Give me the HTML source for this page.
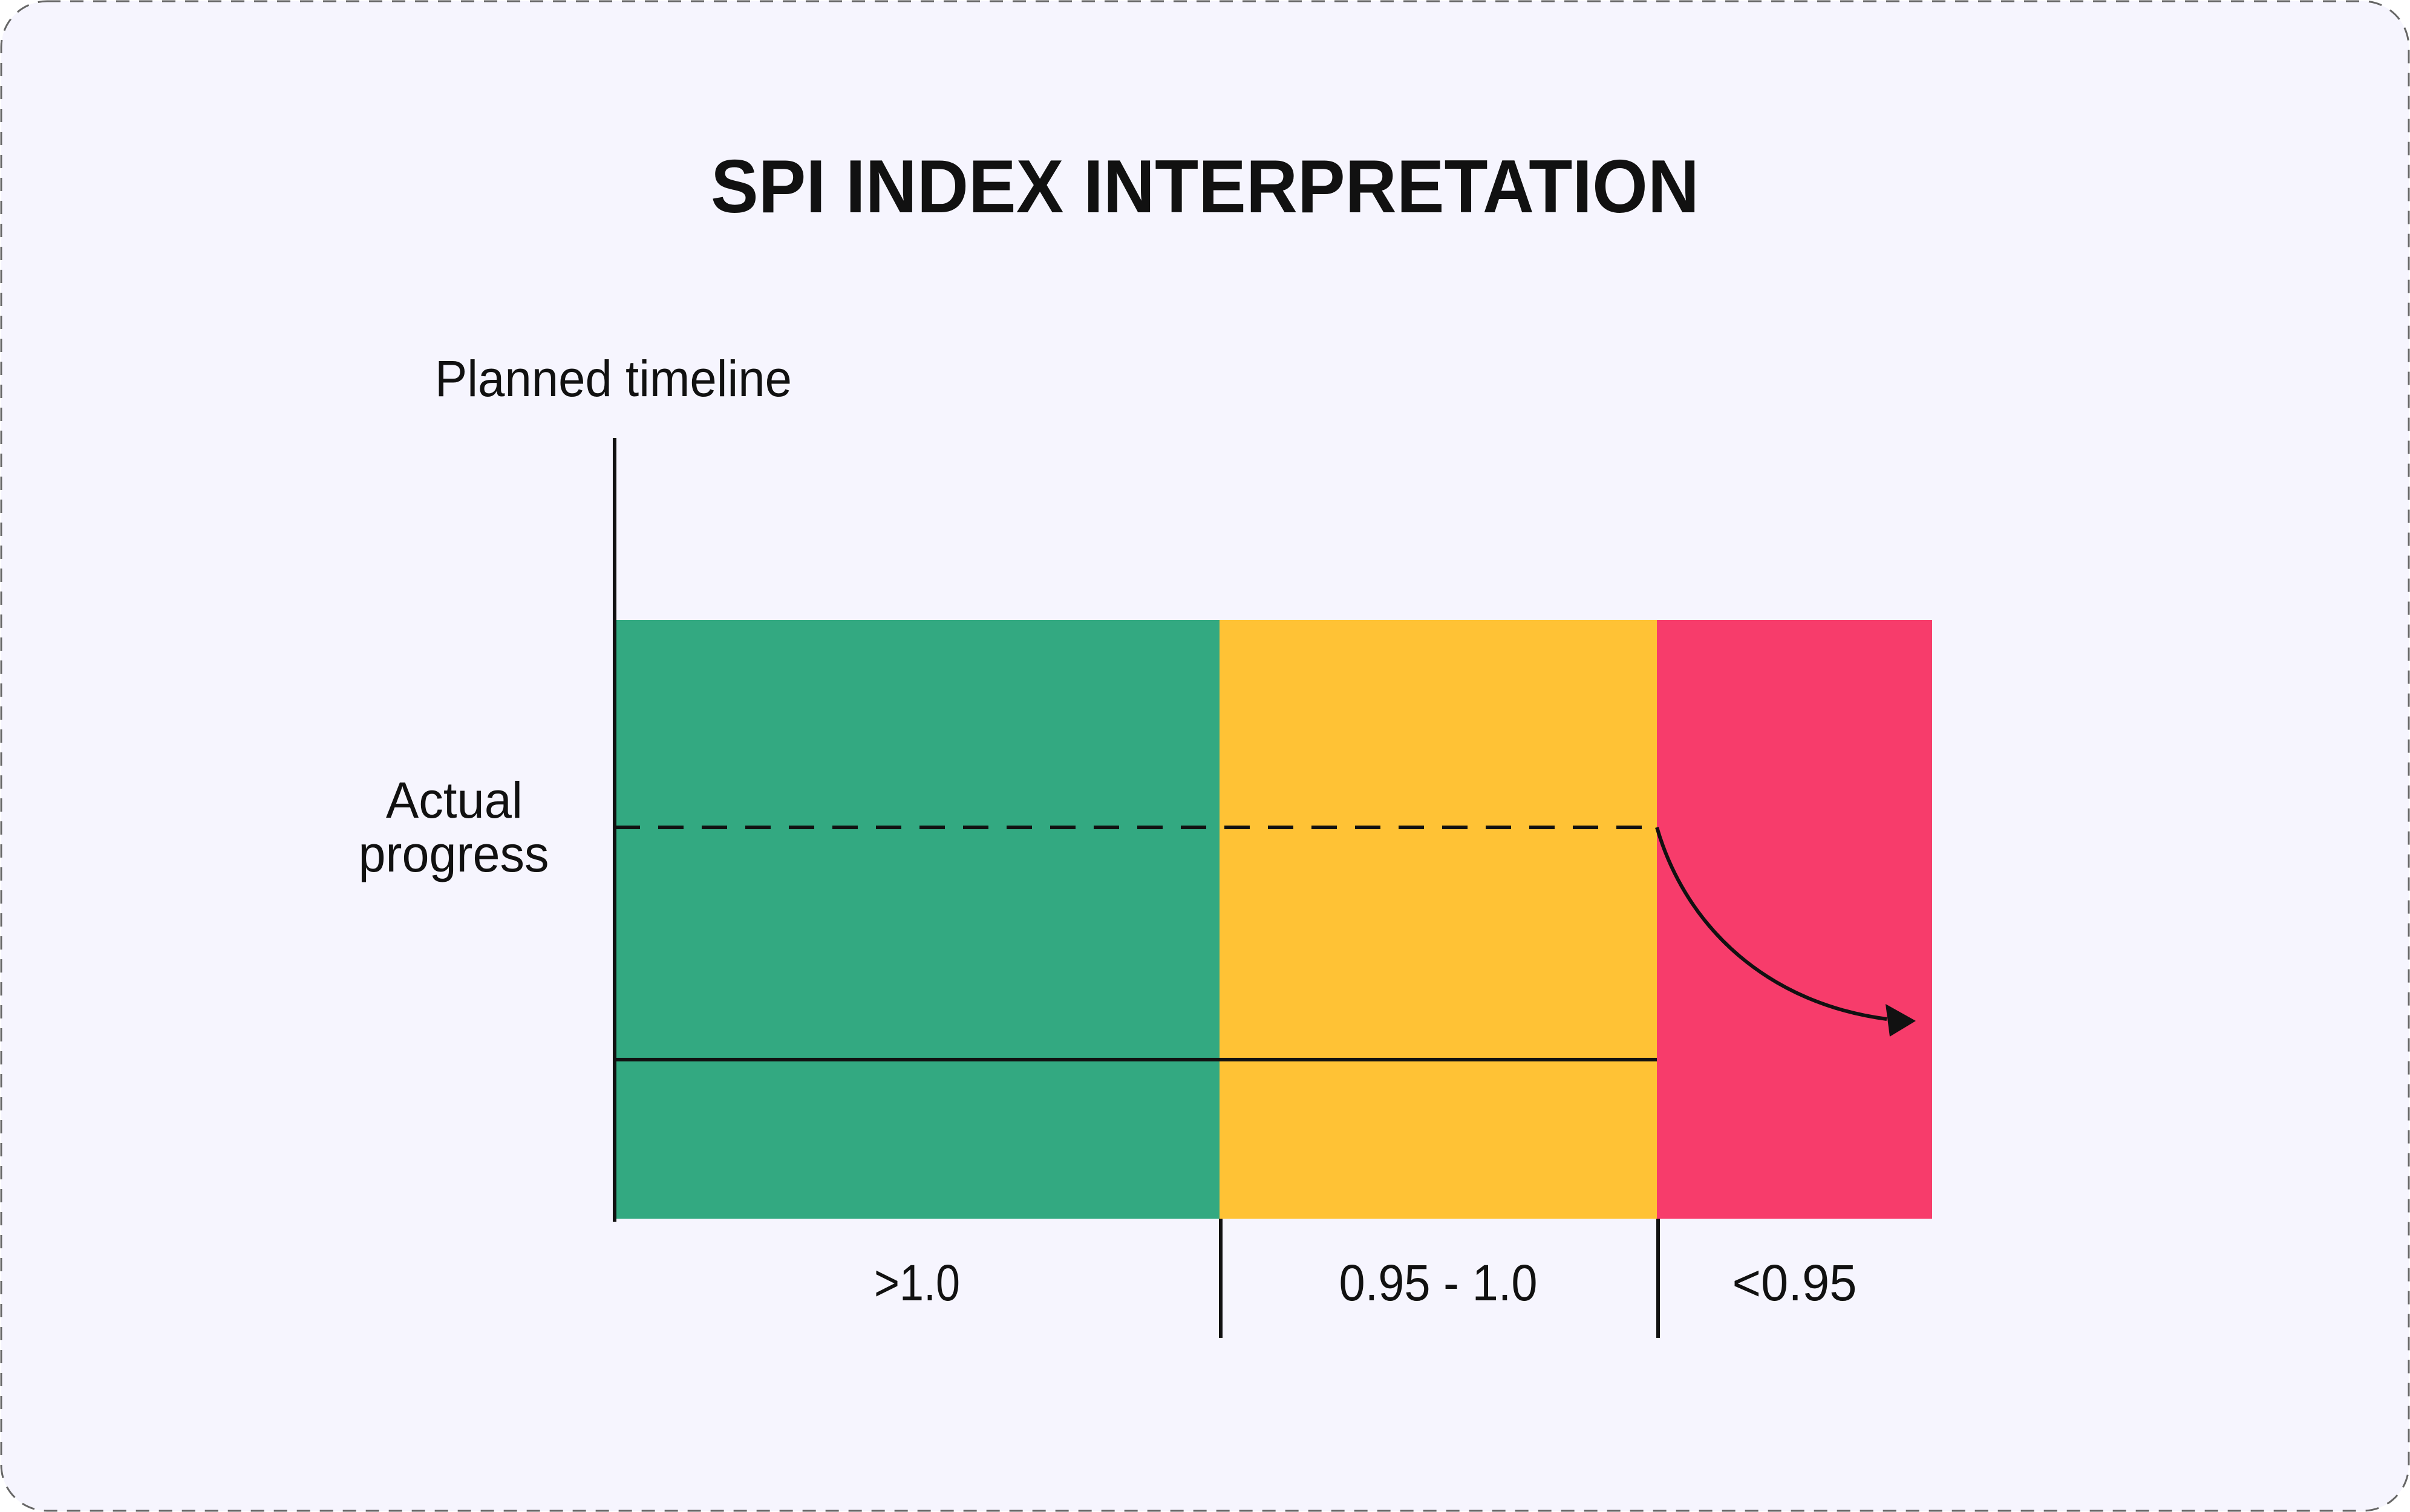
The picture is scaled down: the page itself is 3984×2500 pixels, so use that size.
<!DOCTYPE html>
<html><head><meta charset="utf-8"><style>
html,body{margin:0;padding:0;background:#fff;}
svg{display:block;}
text{font-family:"Liberation Sans",sans-serif;fill:#111;}
</style></head><body>
<svg width="3984" height="2500" viewBox="0 0 3984 2500">
<rect x="2" y="2" width="3980" height="2496" rx="76" fill="#f6f5fe" stroke="#666" stroke-width="3" stroke-dasharray="22 16"/>
<text x="1992" y="351" text-anchor="middle" font-size="124" font-weight="bold" textLength="1634" lengthAdjust="spacingAndGlyphs">SPI INDEX INTERPRETATION</text>
<text x="719" y="655" font-size="84" textLength="590" lengthAdjust="spacingAndGlyphs">Planned timeline</text>
<text x="751" y="1352" text-anchor="middle" font-size="84" textLength="226" lengthAdjust="spacingAndGlyphs">Actual</text>
<text x="750" y="1441" text-anchor="middle" font-size="84" textLength="315" lengthAdjust="spacingAndGlyphs">progress</text>
<g id="zones"></g>
<g id="marks"></g>
</svg>
<script>
const categories = [">1.0", "0.95 - 1.0", "<0.95"];
const bounds = [1.0, 0.95];
const zoneStarts = [0, 1000, 1723];
const zoneEnds = [1000, 1723, 2178];
const colors = ["#33a981", "#ffc235", "#f73c6b"];
const labelWidths = [142, 328, 206];
const x0 = 1016, scale = 1;
const xs = v => x0 + v * scale;
const yTop = 1025, yBottom = 2015;
const NS = "http://www.w3.org/2000/svg";
const zones = document.getElementById('zones');
const marks = document.getElementById('marks');
function mk(tag, attrs, parent){const e=document.createElementNS(NS,tag);for(const k in attrs)e.setAttribute(k,attrs[k]);parent.appendChild(e);return e;}
categories.forEach((c,i)=>{
  const r = mk('rect',{x:xs(zoneStarts[i]),y:yTop,width:xs(zoneEnds[i])-xs(zoneStarts[i]),height:yBottom-yTop,fill:colors[i]},zones);
  
  
  const t = mk('text',{x:(xs(zoneStarts[i])+xs(zoneEnds[i]))/2,y:2150,'text-anchor':'middle','font-size':84,textLength:labelWidths[i],lengthAdjust:'spacingAndGlyphs'},zones);
  t.textContent = c;
  
  
  if(i>0){
    const tk = mk('line',{x1:xs(zoneStarts[i])+2,x2:xs(zoneStarts[i])+2,y1:yBottom,y2:2212,stroke:'#111','stroke-width':6},zones);
    
    
  }
});
const axis = mk('line',{x1:x0,x2:x0,y1:724,y2:2020,stroke:'#111','stroke-width':6},marks);


const xe = xs(zoneEnds[1]);
const dash = mk('line',{x1:x0,x2:xe,y1:1368,y2:1368,stroke:'#111','stroke-width':6,'stroke-dasharray':'42 30'},marks);


const solid = mk('line',{x1:x0,x2:xe,y1:1752,y2:1752,stroke:'#111','stroke-width':6},marks);


const curve = mk('path',{d:`M${xe},1368 C${xe+50},1540 ${xe+190},1660 ${xe+380},1685`,fill:'none',stroke:'#111','stroke-width':6},marks);


const head = mk('polygon',{points:`${xe+428},1688 ${xe+378},1660 ${xe+385},1714`,fill:'#111'},marks);


</script>
</body></html>
